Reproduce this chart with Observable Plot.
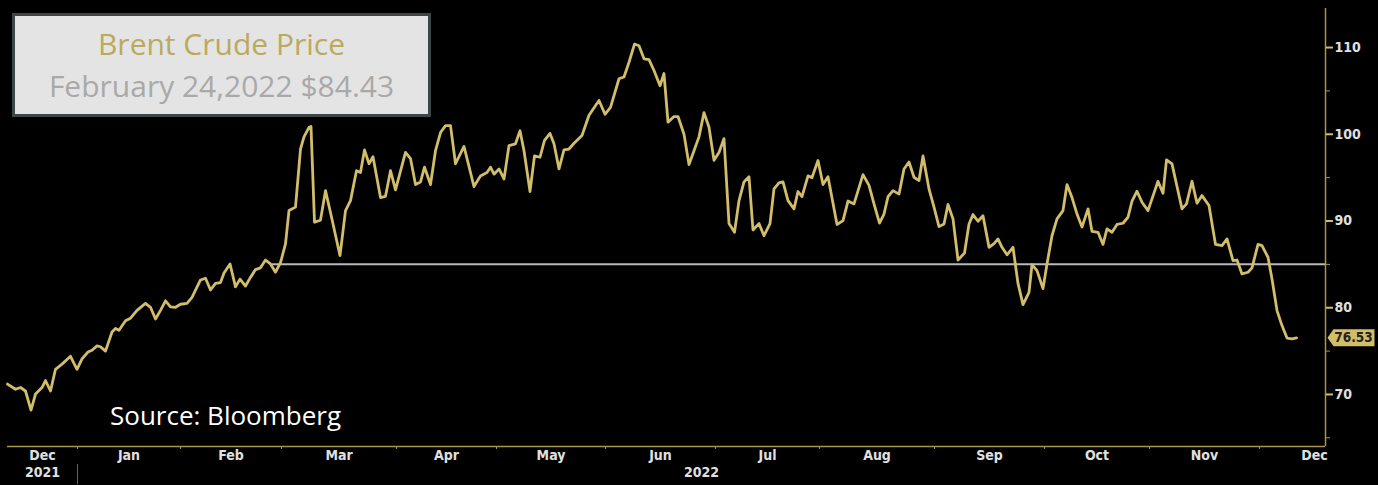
<!DOCTYPE html>
<html>
<head>
<meta charset="utf-8">
<script src="https://cdn.jsdelivr.net/npm/d3@7"></script>
<script src="https://cdn.jsdelivr.net/npm/@observablehq/plot@0.6"></script>
<style>
  html, body { margin: 0; padding: 0; background: #000; }
  #wrap { position: relative; width: 1378px; height: 485px; background: #000; overflow: hidden; }
  #titlebox {
    position: absolute; left: 12px; top: 13px; width: 419px; height: 104px;
    background: #e4e4e4; border: 3px solid #3b4646; box-sizing: border-box;
    font-family: "Open Sans", Lato, sans-serif; text-align: center;
  }
  #t1 { position: absolute; left: 0; right: 0; top: 9px; font-size: 30px; line-height: 38px; color: #bba95c; }
  #t2 { position: absolute; left: 0; right: 0; top: 51px; font-size: 30px; line-height: 38px; color: #a9a9a9; }
  #source { position: absolute; left: 110px; top: 398px; font-family: "Open Sans", Lato, sans-serif; font-size: 26px; line-height: 34px; color: #ffffff; }
  #chart { position: absolute; left: 0; top: 0; }
</style>
</head>
<body>
<div id="wrap">
  <div id="chart"></div>
  <div id="titlebox"><div id="t1"></div><div id="t2"></div></div>
  <div id="source"></div>
</div>
<script>
// ---- Data (x = trading-day index from the left edge of the chart) ----
const days = [0,1.6,2.6,3.6,4.7,5.6,6.9,7.6,8.6,9.6,10.9,12.6,13.9,14.9,16.1,16.9,17.9,18.6,19.6,20.9,21.6,22.3,23.6,24.6,25.9,27.6,28.6,29.6,30.6,31.6,32.6,33.6,34.6,35.9,36.9,38.6,39.6,40.6,41.6,42.6,43.3,44.5,45.6,46.5,47.6,48.6,49.6,50.6,51.6,52.6,53.6,54.6,
55.6,56.3,57.6,58.6,59.3,60.3,60.7,61.4,62.6,63.6,64.9,66.5,67.6,68.6,69.8,70.6,71.4,72.3,73.1,74.6,75.6,76.6,77.6,79.6,80.6,81.6,82.6,83.4,84.6,85.6,86.6,87.6,88.6,89.6,91.3,93.3,94.6,95.9,96.6,97.3,98.3,99.3,100.3,101.6,102.5,103.3,104.5,105.4,106.5,107.4,108.5,109.3,110.3,111.3,112.3,113.3,114.9,116.3,118.3,119.5,120.6,122.3,123.3,124.3,125.4,126.3,127.3,128.3,129.3,130.5,131.3,132.1,133.3,134.1,135.3,136.3,137.3,138.3,
139.3,140.3,141.3,142.3,143.3,144.3,145.4,146.3,147.3,148.3,149.1,150.3,151.3,152.5,153.3,154.3,155.1,156.1,157.3,158.1,158.9,160.1,160.9,162.1,163.1,164.1,165.9,167.1,168.1,169.3,171.1,172.3,173.3,174.4,175.3,176.1,177.1,178.3,179.3,180.3,181.3,182.3,183.1,184.3,185.3,186.3,187.3,188.1,189.1,190.1,191.4,192.3,193.1,194.1,195.1,196.3,197.3,198.1,198.9,199.9,201.1,
202.1,203.1,204.3,204.9,205.9,207.1,207.9,208.9,209.9,211.1,211.9,212.9,213.9,214.9,216.1,216.9,218.1,219.1,219.9,220.9,221.9,223.1,224.1,224.9,225.9,226.9,228.1,228.9,230.1,231.1,231.8,232.9,233.9,234.9,235.8,236.9,237.9,238.9,240.3,241.6,242.9,243.9,245.1,245.9,246.9,248.1,248.9,250.1,250.9,252.1,252.9,253.9,254.9,255.9,256.9,257.8];

const prices = [71.2,70.6,70.8,70.4,68.2,70.05,70.8,71.6,70.4,72.9,73.5,74.4,72.9,74.1,74.9,75.1,75.6,75.5,75.0,77.2,77.6,77.4,78.5,78.8,79.7,80.5,80.05,78.7,79.7,80.8,80.1,80.05,80.4,80.5,81.2,83.2,83.4,82.05,82.8,82.9,84.0,85.05,82.4,83.3,82.5,83.5,84.4,84.6,85.5,85.05,84.1,85.2,
87.35,91.2,91.6,98.3,99.7,100.8,100.9,89.85,90.1,93.5,90.2,86.0,91.2,92.35,95.8,95.6,98.2,96.6,97.4,92.7,92.85,95.8,93.6,97.9,97.2,94.2,94.5,96.2,94.2,98.1,100.2,101.0,101.0,96.6,98.6,93.97,95.2,95.6,96.2,95.4,96.0,94.85,98.7,98.9,100.4,98.1,93.4,97.5,97.35,99.3,100.1,98.9,96.0,98.2,98.3,98.96,99.85,102.2,103.9,102.3,103.1,106.4,106.6,108.3,110.4,110.2,108.7,108.6,107.35,105.6,107.0,101.4,102.04,102.04,100.0,96.5,98.1,99.7,
102.5,100.8,97.0,97.9,99.5,89.7,88.7,92.35,94.5,95.1,88.97,89.7,88.3,89.7,93.7,94.4,94.5,92.35,91.4,93.4,92.8,95.2,95.0,96.97,94.2,95.1,89.6,90.05,92.3,91.97,95.35,94.1,91.97,89.75,90.8,92.8,93.5,93.1,96.0,96.8,95.04,94.66,97.5,93.7,91.6,89.35,89.66,91.9,90.24,85.5,86.3,89.66,90.74,89.97,90.6,86.97,87.4,87.93,86.97,86.1,86.97,
82.8,80.36,81.78,84.97,84.28,82.2,85.05,88.3,90.24,91.2,94.2,92.7,90.8,89.3,91.4,88.8,88.7,87.3,89.09,88.7,89.6,89.74,90.43,92.3,93.43,92.16,91.2,92.55,94.58,93.2,97.04,96.58,93.97,91.4,91.97,94.58,92.05,92.93,91.78,87.3,87.16,87.93,85.43,85.5,83.9,84.09,84.59,87.3,87.16,85.82,83.32,79.67,77.94,76.5,76.4,76.53];

// month boundaries (trading-day index) and labels
const monthStarts = [-8, 14, 34.6, 54.8, 77.8, 97.8, 119.6, 141.6, 162.4, 185.4, 207.4, 228.4, 250.4, 272.4];
const monthLabels = ["Dec","Jan","Feb","Mar","Apr","May","Jun","Jul","Aug","Sep","Oct","Nov","Dec"];
const yearLabels = ["2021", "2022"];
const yearStarts = [-8, 14];
const majorTicks = [70, 80, 90, 100, 110];
const minorTicks = [65, 75, 85, 95, 105];
const refPrice = 85;
const refStartDay = 53;
const lastPrice = 76.53;

const titleText = "Brent Crude Price";
const subtitleText = "February 24,2022 $84.43";
const sourceText = "Source: Bloomberg";

// ---- Build ----
document.getElementById("t1").textContent = titleText;
document.getElementById("t2").textContent = subtitleText;
document.getElementById("source").textContent = sourceText;

const xMax = 263.6;
const data = days.map((d, i) => ({day: d, price: prices[i]}));
const clampX = v => Math.max(0, Math.min(v, 272.4));
const monthMid = monthLabels.map((m, i) => ({
  label: m,
  mid: (clampX(monthStarts[i]) + clampX(monthStarts[i + 1])) / 2
}));
const yearMid = yearLabels.map((y, i) => ({
  label: y,
  mid: (Math.max(0, yearStarts[i]) + (i + 1 < yearStarts.length ? yearStarts[i + 1] : xMax)) / 2
}));

const gold = "#d2bd6b";
const axisGold = "#a8954e";
const labelColor = "#e0e0e0";
const font = "'Liberation Sans Narrow', 'DejaVu Sans Condensed', 'Roboto', sans-serif";

const tagSymbol = {
  draw(ctx) {
    ctx.moveTo(0, 0);
    ctx.lineTo(6, -8.5);
    ctx.lineTo(47, -8.5);
    ctx.lineTo(47, 8.5);
    ctx.lineTo(6, 8.5);
    ctx.closePath();
  }
};

const chart = Plot.plot({
  width: 1378,
  height: 485,
  marginLeft: 7,
  marginRight: 53,
  marginTop: 8,
  marginBottom: 39,
  style: {background: "#000", color: labelColor, fontFamily: font, fontSize: "14px", fontWeight: "bold", overflow: "visible"},
  x: {domain: [0, xMax], axis: null},
  y: {domain: [64, 114.5], axis: null},
  marks: [
    Plot.ruleY([refPrice], {x1: refStartDay, x2: xMax, stroke: "#b9b9b9", strokeWidth: 2}),
    Plot.line(data, {x: "day", y: "price", stroke: gold, strokeWidth: 2.8, strokeLinejoin: "round"}),
    Plot.ruleX([xMax], {stroke: axisGold, strokeWidth: 1.5}),
    Plot.ruleY([64], {stroke: axisGold, strokeWidth: 1.5}),
    Plot.axisY({anchor: "right", ticks: majorTicks, tickSize: 7, tickPadding: 2, stroke: gold, strokeWidth: 2,
                fill: labelColor, label: null, fontSize: 14, tickFormat: d => d}),
    Plot.axisY({anchor: "right", ticks: minorTicks, tickSize: 4, stroke: axisGold, fill: "none", label: null}),
    Plot.axisX({anchor: "bottom", ticks: monthStarts.slice(1, -1), tickSize: 3, stroke: axisGold, fill: "none", label: null}),
    Plot.axisX({anchor: "bottom", ticks: [yearStarts[1]], tickSize: 20, dy: 18, stroke: "#6f6330", fill: "none", label: null}),
    Plot.text(monthMid, {x: "mid", text: "label", frameAnchor: "bottom", dy: 13, fill: labelColor, fontSize: 14}),
    Plot.text(yearMid, {x: "mid", text: "label", frameAnchor: "bottom", dy: 30, fill: labelColor, fontSize: 14}),
    Plot.dot([lastPrice], {x: () => xMax, y: d => d, symbol: tagSymbol, fill: gold, stroke: "none", dx: 2}),
    Plot.text([lastPrice], {x: () => xMax, y: d => d, text: d => d.toFixed(2), dx: 28, fill: "#222", fontSize: 13.5})
  ]
});
document.getElementById("chart").appendChild(chart);
</script>
</body>
</html>
